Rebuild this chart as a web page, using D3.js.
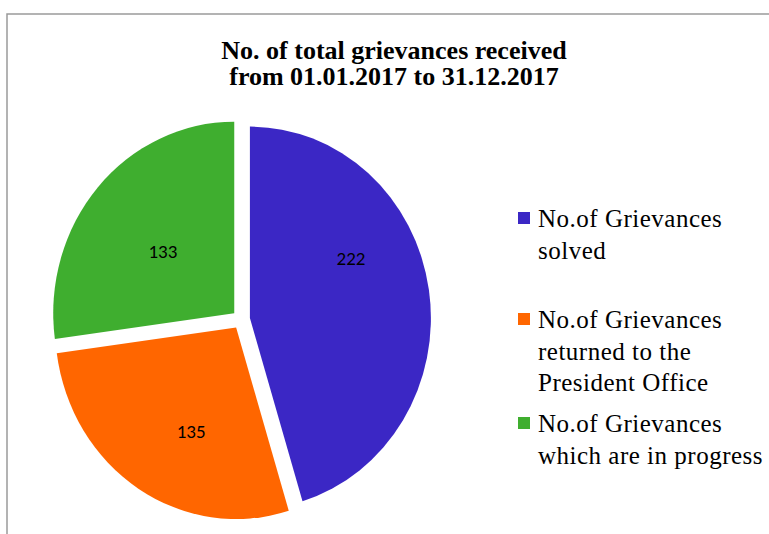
<!DOCTYPE html>
<html>
<head>
<meta charset="utf-8">
<script src="https://cdn.jsdelivr.net/npm/d3@7"></script>
<style>
  html, body { margin: 0; padding: 0; background: #fff; }
</style>
</head>
<body>
<svg id="chart"></svg>
<script>
// data
const categories = [
  "No.of Grievances solved",
  "No.of Grievances returned to the President Office",
  "No.of Grievances which are in progress",
];
const values = [222, 135, 133];
const colors = ["#3b27c5", "#ff6600", "#3fae2f"];
const legendLines = [
  ["No.of Grievances", "solved"],
  ["No.of Grievances", "returned to the", "President Office"],
  ["No.of Grievances", "which are in progress"],
];
const titleLines = [
  "No. of total grievances received",
  "from 01.01.2017 to 31.12.2017",
];

// layout
const width = 769;
const height = 534;
const cx = 241;
const cy = 319.5;
const radius = 181;
const squash = 1.058; // pie is drawn slightly taller than wide
const explode = 9;
// where each value label sits: fraction along the slice, fraction of radius
const labelAt = [[0.382, 0.686], [0.424, 0.649], [0.483, 0.559]];
const serif = '"Liberation Serif", "Times New Roman", serif';

const svg = d3
  .select("#chart")
  .attr("width", width)
  .attr("height", height);

// frame (only top and left edges show)
svg
  .append("path")
  .attr("d", `M7,${height} V14 H${width}`)
  .attr("fill", "none")
  .attr("stroke", "#9a9a9a")
  .attr("stroke-width", 1.5);

svg
  .selectAll("text.title")
  .data(titleLines)
  .enter()
  .append("text")
  .attr("class", "title")
  .attr("x", 394)
  .attr("y", (d, i) => 59 + i * 26)
  .attr("text-anchor", "middle")
  .attr("font-family", serif)
  .attr("font-weight", "bold")
  .attr("font-size", 26)
  .attr("fill", "#000")
  .text((d) => d);

const pie = d3.pie().sort(null).value((d) => d);
const arcs = pie(values);
const arc = d3.arc().innerRadius(0).outerRadius(radius);

const g = svg
  .append("g")
  .attr("transform", `translate(${cx}, ${cy}) scale(1, ${squash})`);

g.selectAll("path.slice")
  .data(arcs)
  .enter()
  .append("path")
  .attr("class", "slice")
  .attr("d", arc)
  .attr("transform", (d) => {
    const a = (d.startAngle + d.endAngle) / 2;
    return `translate(${Math.sin(a) * explode}, ${-Math.cos(a) * explode})`;
  })
  .attr("fill", (d, i) => colors[i]);

g.selectAll("text.value")
  .data(arcs)
  .enter()
  .append("text")
  .attr("class", "value")
  .attr("transform", (d, i) => {
    const a = d.startAngle + (d.endAngle - d.startAngle) * labelAt[i][0];
    const r = radius * labelAt[i][1];
    return `translate(${Math.sin(a) * r}, ${-Math.cos(a) * r}) scale(1, ${1 / squash})`;
  })
  .attr("text-anchor", "middle")
  .attr("dy", "0.32em")
  .attr("font-family", '"Carlito", "Calibri", sans-serif')
  .attr("font-size", 19)
  .attr("fill", "#000")
  .text((d) => d.value);

// legend
const legendTop = [227, 328, 432];
const legend = svg
  .selectAll("g.legend")
  .data(categories)
  .enter()
  .append("g")
  .attr("class", "legend")
  .attr("transform", (d, i) => `translate(518, ${legendTop[i]})`);

legend
  .append("rect")
  .attr("x", 0)
  .attr("y", -15)
  .attr("width", 12)
  .attr("height", 12)
  .attr("fill", (d, i) => colors[i]);

legend
  .selectAll("text")
  .data((d, i) => legendLines[i])
  .enter()
  .append("text")
  .attr("x", 20)
  .attr("y", (d, j) => j * 31.5)
  .attr("font-family", serif)
  .attr("font-size", 25)
  .attr("letter-spacing", 0.5)
  .attr("fill", "#000")
  .text((d) => d);
</script>
</body>
</html>
